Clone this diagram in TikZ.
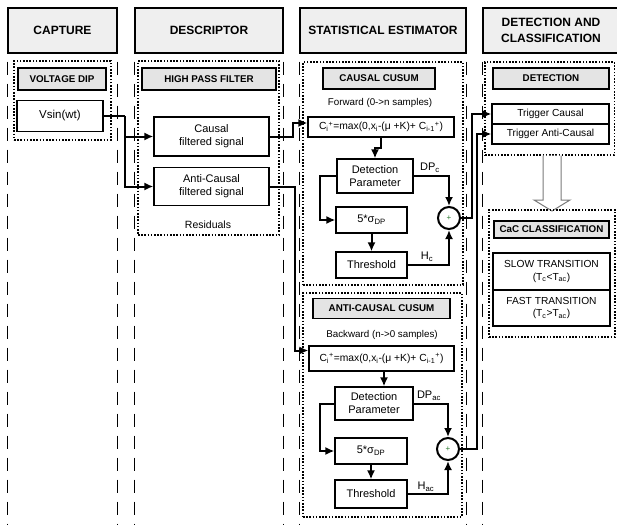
\documentclass[tikz,border=0pt]{standalone}
\usepackage{fontspec}
\setmainfont{Liberation Sans}
\usetikzlibrary{arrows.meta,calc}
\definecolor{hdrgray}{HTML}{EFEFEF}
\definecolor{lblgray}{HTML}{E4E4E4}
\definecolor{plusgreen}{HTML}{2E7D32}
\definecolor{arrgray}{HTML}{7A7A7A}
\begin{document}
\begin{tikzpicture}[x=1pt,y=-1pt,
 hdr/.style={draw, fill=hdrgray, line width=1.1pt, font=\fontsize{12}{16}\selectfont\bfseries, align=center, inner sep=0pt},
 lbl/.style={draw, fill=lblgray, line width=1.5pt, font=\fontsize{9.8}{11}\selectfont\bfseries, inner sep=0pt},
 blk/.style={draw, fill=white, line width=1.2pt, font=\fontsize{11}{13}\selectfont, align=center, inner sep=0pt},
 dotbox/.style={draw, line width=1.3pt, dash pattern=on 1.6pt off 1.6pt, inner sep=0pt},
 colline/.style={line width=1.4pt, dash pattern=on 13pt off 9pt, dash phase=14pt},
 conn/.style={line width=2pt, -{Latex[length=9pt,width=8pt]}},
 note/.style={font=\fontsize{10.5}{12}\selectfont, inner sep=0pt},
 sumnode/.style={circle, draw, line width=2pt, minimum size=22pt, inner sep=0pt, fill=white, font=\fontsize{8}{8}\selectfont\color{plusgreen}},
]
\useasboundingbox (0,0) rectangle (617,524);
\coordinate (bot) at (0,526);

% ---------- column headers ----------
\node[hdr, minimum width=109pt, minimum height=45pt] (hc1) at (62.5,30.5) {CAPTURE};
\node[hdr, minimum width=148pt, minimum height=45pt] (hc2) at (209,30.5) {DESCRIPTOR};
\node[hdr, minimum width=166pt, minimum height=45pt] (hc3) at (383,30.5) {STATISTICAL ESTIMATOR};
\node[hdr, minimum width=136pt, minimum height=45pt] (hc4) at (551,30.5) {DETECTION AND\\CLASSIFICATION};

\foreach \h in {hc1,hc2,hc3,hc4}{
  \draw[colline] (\h.south west) -- (\h.south west |- bot);
  \draw[colline] (\h.south east) -- (\h.south east |- bot);
}

% ---------- CAPTURE ----------
\node[dotbox, minimum width=97pt, minimum height=79pt] (capdot) at (62.5,100.5) {};
\node[lbl, minimum width=88pt, minimum height=22pt] (vdip) at (62,79) {VOLTAGE DIP};
\node[blk, minimum width=86pt, minimum height=31pt, font=\fontsize{11.5}{13}\selectfont] (vsin) at (60,116) {Vsin(wt)};

% ---------- DESCRIPTOR ----------
\node[dotbox, minimum width=141pt, minimum height=174pt] (desdot) at (208.5,148) {};
\node[lbl, minimum width=134pt, minimum height=22pt] (hpf) at (209,79) {HIGH PASS FILTER};
\node[blk, minimum width=115pt, minimum height=39pt] (causal) at (211.5,136.5) {Causal\\filtered signal};
\node[blk, minimum width=115pt, minimum height=38pt] (anti) at (211.5,186.5) {Anti-Causal\\filtered signal};
\node[note] (resid) at (208,225) {Residuals};

% ---------- STATISTICAL ESTIMATOR : causal ----------
\node[dotbox, minimum width=160pt, minimum height=223pt] (cdot) at (383,173.5) {};
\node[lbl, minimum width=112pt, minimum height=21pt] (clbl) at (379,78.5) {CAUSAL CUSUM};
\node[note, font=\fontsize{9.8}{11}\selectfont] (fwd) at (380,103) {Forward (0->n samples)};
\node[blk, minimum width=146pt, minimum height=20pt, font=\fontsize{10.3}{12}\selectfont] (cic) at (381,127) {C\textsubscript{i}\textsuperscript{+}=max(0,x\textsubscript{i}-(μ +K)+ C\textsubscript{i-1}\textsuperscript{+})};
\node[blk, minimum width=76pt, minimum height=34pt] (dpc) at (375,176) {Detection\\Parameter};
\node[blk, minimum width=71pt, minimum height=26pt] (sgc) at (371.5,220) {5*σ\textsubscript{DP}};
\node[blk, minimum width=71pt, minimum height=26pt] (thc) at (371.5,265) {Threshold};
\node[sumnode] (sumc) at (449,218) {+};

% ---------- STATISTICAL ESTIMATOR : anti-causal ----------
\node[dotbox, minimum width=159pt, minimum height=224pt] (adot) at (382.5,405) {};
\node[lbl, minimum width=137pt, minimum height=20pt] (albl) at (381.5,308.5) {ANTI-CAUSAL CUSUM};
\node[note, font=\fontsize{9.8}{11}\selectfont] (bwd) at (382,335) {Backward (n->0 samples)};
\node[blk, minimum width=145pt, minimum height=25pt, font=\fontsize{10.3}{12}\selectfont] (cia) at (381.5,358.5) {C\textsubscript{i}\textsuperscript{+}=max(0,x\textsubscript{i}-(μ +K)+ C\textsubscript{i-1}\textsuperscript{+})};
\node[blk, minimum width=78pt, minimum height=33pt] (dpa) at (374,403.5) {Detection\\Parameter};
\node[blk, minimum width=72pt, minimum height=26pt] (sga) at (371,451) {5*σ\textsubscript{DP}};
\node[blk, minimum width=72pt, minimum height=28pt] (tha) at (371,494) {Threshold};
\node[sumnode] (suma) at (448,449) {+};

% ---------- DETECTION AND CLASSIFICATION ----------
\node[dotbox, minimum width=129.5pt, minimum height=93pt] (detdot) at (549.75,108.5) {};
\node[lbl, minimum width=116pt, minimum height=21pt] (detlbl) at (551,78.5) {DETECTION};
\node[blk, minimum width=117pt, minimum height=20pt, font=\fontsize{10.2}{12}\selectfont] (trc) at (550.5,114) {Trigger Causal};
\node[blk, minimum width=117pt, minimum height=20pt, font=\fontsize{10.2}{12}\selectfont] (tra) at (550.5,134) {Trigger Anti-Causal};

\draw[arrgray, line width=1pt, fill=white] (543,155.7) -- (543,200) -- (534,200) -- (552,211) -- (570,200) -- (561,200) -- (561,155.7);

\node[dotbox, minimum width=126pt, minimum height=127pt] (cacdot) at (552,273.5) {};
\node[lbl, minimum width=115pt, minimum height=17pt] (caclbl) at (551.5,229.5) {CaC CLASSIFICATION};
\node[blk, minimum width=117pt, minimum height=37pt, font=\fontsize{10.2}{12.5}\selectfont] (slow) at (551.5,271.5) {SLOW TRANSITION\\(T\textsubscript{c}<T\textsubscript{ac})};
\node[blk, minimum width=117pt, minimum height=36pt, font=\fontsize{10.2}{12.5}\selectfont] (fast) at (551.5,308) {FAST TRANSITION\\(T\textsubscript{c}>T\textsubscript{ac})};

% ---------- connectors ----------
\coordinate (j1) at (125,116);
\draw[line width=2pt] (vsin) -- (j1);
\draw[conn] (j1) |- (causal);
\draw[conn] (j1) |- (anti);

\coordinate (j2) at (293,136.5);
\draw[conn] (causal) -- (j2) |- ($(cic.west)+(0,-4)$);
\coordinate (j3) at (294.5,186.5);
\draw[conn] (anti) -- (j3) |- ($(cia.west)+(0,-8)$);

% causal CUSUM internals
\draw[conn] (cic.south) -- ++(0,10) -| (dpc.north);
\coordinate (k1) at (320,176);
\draw[conn] (dpc) -- (k1) |- (sgc);
\draw[conn] (sgc) -- (thc);
\draw[conn] (dpc) -| (sumc);
\draw[conn] (thc) -| (sumc);
\node[note, font=\fontsize{11}{12}\selectfont] (dpclab) at (430,168) {DP\textsubscript{c}};
\node[note, font=\fontsize{11}{12}\selectfont] (hclab) at (427,257) {H\textsubscript{c}};

% anti-causal CUSUM internals
\draw[conn] ([xshift=2.5pt]cia.south) -- ([xshift=2.5pt]cia.south |- dpa.north);
\coordinate (k6) at (320,403.5);
\draw[conn] (dpa) -- (k6) |- (sga);
\draw[conn] (sga) -- (tha);
\draw[conn] (dpa) -| (suma);
\draw[conn] (tha) -| (suma);
\node[note, font=\fontsize{11}{12}\selectfont] (dpalab) at (429,396) {DP\textsubscript{ac}};
\node[note, font=\fontsize{11}{12}\selectfont] (halab) at (426,487) {H\textsubscript{ac}};

% to detection
\coordinate (k3) at (472,218);
\draw[conn] (sumc) -- (k3) |- (trc);
\coordinate (k7) at (476.5,449);
\draw[conn] (suma) -- (k7) |- (tra);
\end{tikzpicture}
\end{document}
